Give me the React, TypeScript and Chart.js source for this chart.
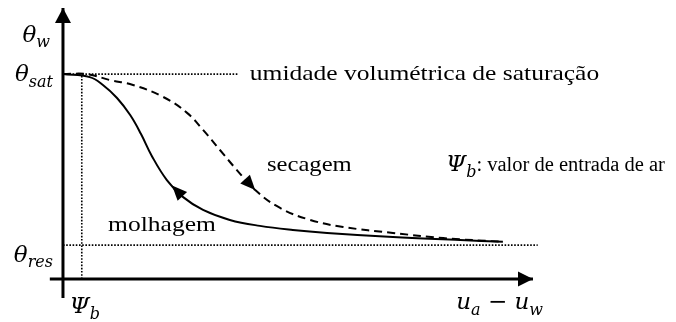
import React, { useEffect, useRef } from "react";
import { Chart, registerables } from "chart.js";

Chart.register(...registerables);

// Soil-water retention: volumetric water content θw against matric suction (ua − uw)
const thetaSat = 0.756;
const thetaRes = 0.125;
const psiB = 0.4;
const suctionAxisEnd = 10;
const thetaAxisEnd = 1.0;

// Wetting branch (molhagem)
const wettingSuction = [0, 0.57, 0.85, 1.15, 1.43, 1.66, 1.89, 2.21, 2.55, 2.98, 3.55, 4.19, 4.89, 5.62, 7.02, 8.45, 9.36];
const wettingTheta = [0.756, 0.745, 0.716, 0.668, 0.605, 0.535, 0.454, 0.365, 0.303, 0.255, 0.218, 0.196, 0.181, 0.17, 0.155, 0.144, 0.137];

// Drying branch (secagem)
const dryingSuction = [0, 0.51, 1.0, 1.49, 2.13, 2.64, 2.98, 3.34, 3.7, 4.09, 4.62, 5.26, 5.96, 7.02, 8.09, 9.36];
const dryingTheta = [0.756, 0.756, 0.734, 0.716, 0.672, 0.613, 0.55, 0.476, 0.402, 0.328, 0.262, 0.218, 0.192, 0.17, 0.151, 0.137];

// Reference lines
const satLineEnd = 3.72;
const resLineEnd = 10.1;

const TEXT_FONT = '"Liberation Serif", serif';
const MATH_FONT = '"DejaVu Serif", serif';

type Part = { text: string; font: string; dy?: number; sx?: number };

// Draws a run of text pieces (with optional subscript offset and horizontal stretch)
function drawRich(ctx: CanvasRenderingContext2D, x: number, y: number, parts: Part[], align: "left" | "right" | "center") {
  let total = 0;
  const widths = parts.map((p) => {
    ctx.font = p.font;
    const w = ctx.measureText(p.text).width * (p.sx || 1);
    total += w;
    return w;
  });
  let cx = align === "left" ? x : align === "right" ? x - total : x - total / 2;
  ctx.textAlign = "left";
  ctx.textBaseline = "alphabetic";
  parts.forEach((p, i) => {
    ctx.save();
    ctx.font = p.font;
    ctx.translate(cx, y + (p.dy || 0));
    ctx.scale(p.sx || 1, 1);
    ctx.fillText(p.text, 0, 0);
    ctx.restore();
    cx += widths[i];
  });
}

function arrowHead(ctx: CanvasRenderingContext2D, tx: number, ty: number, dx: number, dy: number, len: number, half: number) {
  const n = Math.hypot(dx, dy) || 1;
  const ux = dx / n;
  const uy = dy / n;
  const bx = tx - ux * len;
  const by = ty - uy * len;
  ctx.beginPath();
  ctx.moveTo(tx, ty);
  ctx.lineTo(bx - uy * half, by + ux * half);
  ctx.lineTo(bx + uy * half, by - ux * half);
  ctx.closePath();
  ctx.fill();
}

const arrowPlugin = {
  id: "arrowHeads",
  afterDatasetsDraw(chart: any) {
    const ctx = chart.ctx as CanvasRenderingContext2D;
    const xs = chart.scales.x;
    ctx.save();
    ctx.fillStyle = "#000";
    chart.data.datasets.forEach((ds: any, i: number) => {
      const a = ds.arrow;
      if (!a) return;
      const pts = chart.getDatasetMeta(i).data;
      if (a.at === "end") {
        const p1 = pts[pts.length - 1];
        const p0 = pts[pts.length - 2];
        arrowHead(ctx, p1.x, p1.y, p1.x - p0.x, p1.y - p0.y, a.len, a.half);
        return;
      }
      const px = xs.getPixelForValue(a.at);
      for (let k = 0; k < pts.length - 1; k++) {
        const p0 = pts[k];
        const p1 = pts[k + 1];
        if (px >= p0.x && px <= p1.x) {
          const t = (px - p0.x) / (p1.x - p0.x || 1);
          const py = p0.y + t * (p1.y - p0.y);
          const dir = a.reverse ? -1 : 1;
          arrowHead(ctx, px, py, dir * (p1.x - p0.x), dir * (p1.y - p0.y), a.len, a.half);
          break;
        }
      }
    });
    ctx.restore();
  },
};

const labelPlugin = {
  id: "diagramLabels",
  afterDatasetsDraw(chart: any) {
    const ctx = chart.ctx as CanvasRenderingContext2D;
    const xs = chart.scales.x;
    const ys = chart.scales.y;
    const X = (v: number) => xs.getPixelForValue(v);
    const Y = (v: number) => ys.getPixelForValue(v);
    const mBig = `italic 23px ${MATH_FONT}`;
    const mSub = `italic 16px ${MATH_FONT}`;
    const txt = `22px ${TEXT_FONT}`;
    ctx.save();
    ctx.fillStyle = "#000";

    const ax = X(0);
    const ay = Y(0);
    drawRich(ctx, ax - 13, Y(thetaAxisEnd) + 34, [
      { text: "θ", font: mBig },
      { text: "w", font: mSub, dy: 5 },
    ], "right");
    drawRich(ctx, ax - 10, Y(thetaSat) + 7, [
      { text: "θ", font: mBig },
      { text: "sat", font: mSub, dy: 6 },
    ], "right");
    drawRich(ctx, ax - 10, Y(thetaRes) + 17, [
      { text: "θ", font: mBig },
      { text: "res", font: mSub, dy: 5 },
    ], "right");
    drawRich(ctx, X(psiB) + 3, ay + 34, [
      { text: "Ψ", font: mBig },
      { text: "b", font: mSub, dy: 6 },
    ], "center");
    drawRich(ctx, X(suctionAxisEnd) + 10, ay + 30, [
      { text: "u", font: mBig },
      { text: "a", font: mSub, dy: 6 },
      { text: " − ", font: mBig },
      { text: "u", font: mBig },
      { text: "w", font: mSub, dy: 6 },
    ], "right");

    drawRich(ctx, X(satLineEnd) + 12, Y(thetaSat) + 6, [{ text: "umidade volumétrica de saturação", font: txt, sx: 1.16 }], "left");
    drawRich(ctx, X(4.34), Y(0.4), [{ text: "secagem", font: txt, sx: 1.12 }], "left");
    drawRich(ctx, X(8.15), Y(0.4), [
      { text: "Ψ", font: mBig },
      { text: "b", font: mSub, dy: 6 },
      { text: ": valor de entrada de ar", font: `20.5px ${TEXT_FONT}` },
    ], "left");
    drawRich(ctx, X(0.96), Y(0.177), [{ text: "molhagem", font: txt, sx: 1.16 }], "left");
    ctx.restore();
  },
};

const pts = (xs: number[], ys: number[]) => xs.map((x, i) => ({ x, y: ys[i] }));

export default function App() {
  const ref = useRef<HTMLCanvasElement | null>(null);

  useEffect(() => {
    if (!ref.current) return;
    const chart = new Chart(ref.current, {
      type: "line",
      data: {
        datasets: [
          {
            data: [{ x: 0, y: -0.07 }, { x: 0, y: thetaAxisEnd }],
            borderColor: "#000",
            borderWidth: 3,
            arrow: { at: "end", len: 15, half: 8 },
          } as any,
          {
            data: [{ x: -0.28, y: 0 }, { x: suctionAxisEnd, y: 0 }],
            borderColor: "#000",
            borderWidth: 3,
            arrow: { at: "end", len: 15, half: 7.5 },
          } as any,
          {
            data: [{ x: 0, y: thetaSat }, { x: satLineEnd, y: thetaSat }],
            borderColor: "#000",
            borderWidth: 1.6,
            borderDash: [1.6, 1.6],
          },
          {
            data: [{ x: 0, y: thetaRes }, { x: resLineEnd, y: thetaRes }],
            borderColor: "#000",
            borderWidth: 1.6,
            borderDash: [1.6, 1.6],
          },
          {
            data: [{ x: psiB, y: 0 }, { x: psiB, y: thetaSat }],
            borderColor: "#000",
            borderWidth: 1.6,
            borderDash: [1.6, 1.6],
          },
          {
            label: "molhagem",
            data: pts(wettingSuction, wettingTheta),
            borderColor: "#000",
            borderWidth: 2,
            tension: 0.4,
            arrow: { at: 2.32, reverse: true, len: 15, half: 6.5 },
          } as any,
          {
            label: "secagem",
            data: pts(dryingSuction, dryingTheta),
            borderColor: "#000",
            borderWidth: 2,
            borderDash: [8, 5],
            tension: 0.4,
            arrow: { at: 4.09, reverse: false, len: 15, half: 6.5 },
          } as any,
        ],
      },
      options: {
        responsive: false,
        animation: false,
        devicePixelRatio: 1,
        parsing: false as any,
        layout: { padding: 0 },
        elements: { point: { radius: 0, hoverRadius: 0 }, line: { fill: false } },
        // axes origin sits 63px from the left and 43px above the bottom edge
        scales: {
          x: { type: "linear", display: false, min: -1.34, max: 13.043 },
          y: { type: "linear", display: false, min: -0.1587, max: 1.0295 },
        },
        plugins: { legend: { display: false }, tooltip: { enabled: false } },
        events: [],
      },
      plugins: [arrowPlugin, labelPlugin],
    });
    return () => chart.destroy();
  }, []);

  return (
    <div style={{ position: "fixed", left: 0, top: 0, width: 676, height: 322, background: "#fff" }}>
      <canvas ref={ref} width={676} height={322} />
    </div>
  );
}
